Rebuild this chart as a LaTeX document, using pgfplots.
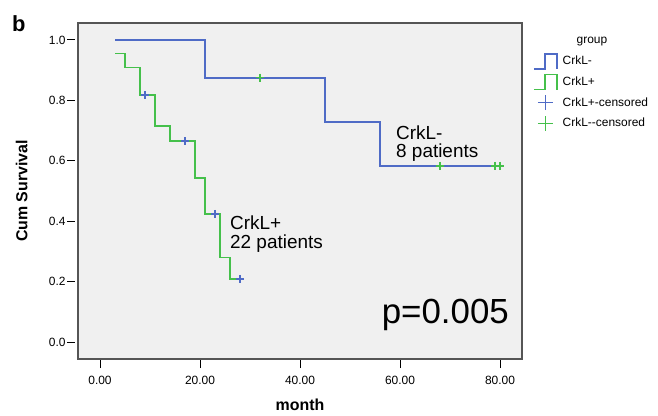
\documentclass[border=0pt]{standalone}
\usepackage{fontspec}
\setmainfont{Liberation Sans}
\usepackage{pgfplots}
\pgfplotsset{compat=1.18}
\definecolor{kmBlue}{HTML}{4F6BC6}
\definecolor{kmGreen}{HTML}{45C04B}
\definecolor{kmBack}{HTML}{F0F0F0}
\definecolor{kmFrame}{HTML}{555555}

\begin{document}
\begin{tikzpicture}[x=1bp,y=1bp]
  \useasboundingbox (0,0) rectangle (658,415);
  \begin{axis}[
      at={(78bp,56bp)},anchor=south west,
      scale only axis,
      width=444bp,height=336bp,
      xmin=-4.4,xmax=84.4,
      ymin=-0.056,ymax=1.056,
      axis background/.style={fill=kmBack},
      axis line style={kmFrame,line width=1.2bp},
      xtick={0,20,40,60,80},
      ytick={0,0.2,0.4,0.6,0.8,1.0},
      xticklabel style={/pgf/number format/.cd,fixed,fixed zerofill,precision=2},
      yticklabel style={/pgf/number format/.cd,fixed,fixed zerofill,precision=1},
      /pgf/number format/assume math mode=true,
      tick label style={font=\fontsize{12}{14}\selectfont,text=black},
      tick align=outside,
      major tick length=8bp,
      tick style={black,line width=1bp},
      xtick pos=bottom,ytick pos=left,
      y tick style={xshift=-3bp},
      x tick style={yshift=-1bp},
      xticklabel shift=6bp,
      yticklabel shift=1bp,
      xlabel={\bfseries month},
      ylabel={\bfseries Cum Survival},
      label style={font=\fontsize{16}{18}\selectfont},
      xlabel style={at={(axis description cs:0.5,0)},anchor=north,yshift=-36bp},
      ylabel style={at={(axis description cs:0,0.5)},anchor=south,yshift=47bp},
      legend style={at={(axis description cs:1,1)},anchor=north west,
        xshift=8bp,yshift=-28bp,draw=none,fill=none,
        font=\fontsize{12}{14}\selectfont,
        row sep=4.2bp,
        nodes={inner sep=1.5bp},
        /tikz/every odd column/.append style={column sep=3.5bp}},
      legend cell align=left,
    ]
    % CrkL- (8 patients)
    \addplot[const plot mark left,kmBlue,line width=1.7bp,
      legend image code/.code={\draw[draw=kmBlue,line width=1.5bp] (0bp,-8bp) -- (11bp,-8bp) -- (11bp,7bp) -- (23bp,7bp) -- (23bp,-8bp);}]
      coordinates {(3,1.0) (21,0.875) (45,0.729) (56,0.583) (80,0.583)};
    \addlegendentry{CrkL-}
    % CrkL+ (22 patients)
    \addplot[const plot mark left,kmGreen,line width=1.7bp,
      legend image code/.code={\draw[draw=kmGreen,line width=1.5bp] (0bp,-8bp) -- (11bp,-8bp) -- (11bp,7bp) -- (23bp,7bp) -- (23bp,-8bp);}]
      coordinates {(3,0.955) (5,0.909) (8,0.818) (11,0.716) (14,0.665)
                   (19,0.543) (21,0.424) (24,0.280) (26,0.209) (28,0.209)};
    \addlegendentry{CrkL+}
    % censored on CrkL+
    \addplot[only marks,mark=+,mark size=4bp,kmBlue,mark options={line width=1.3bp},
      legend image code/.code={\draw[draw=kmBlue,line width=1.3bp] (4bp,0bp) -- (19bp,0bp) (11.5bp,-7.5bp) -- (11.5bp,7.5bp);}]
      coordinates {(9,0.818) (17,0.665) (23,0.424) (28,0.209)};
    \addlegendentry{CrkL+-censored}
    % censored on CrkL-
    \addplot[only marks,mark=+,mark size=4bp,kmGreen,mark options={line width=1.3bp},
      legend image code/.code={\draw[draw=kmGreen,line width=1.3bp] (4bp,0bp) -- (19bp,0bp) (11.5bp,-7.5bp) -- (11.5bp,7.5bp);}]
      coordinates {(32,0.875) (68,0.583) (79,0.583) (80,0.583)};
    \addlegendentry{CrkL-{}-censored}
    \node[anchor=north west,align=left,font=\fontsize{19}{18.5}\selectfont,inner sep=0pt]
      at (axis cs:26,0.418) {CrkL+\\22 patients};
    \node[anchor=north west,align=left,font=\fontsize{19}{18.5}\selectfont,inner sep=0pt]
      at (axis cs:59.2,0.718) {CrkL-\\8 patients};
    \node[anchor=base east,font=\fontsize{35}{38}\selectfont,inner sep=0pt]
      at (axis cs:81.8,0.063) {p=0.005};
  \end{axis}
  \node[font=\fontsize{12}{14}\selectfont,inner sep=0pt] at (592,373) {group};
  \node[anchor=north west,font=\fontsize{22}{24}\selectfont\bfseries,inner sep=0pt] at (12,400) {b};
\end{tikzpicture}
\end{document}
